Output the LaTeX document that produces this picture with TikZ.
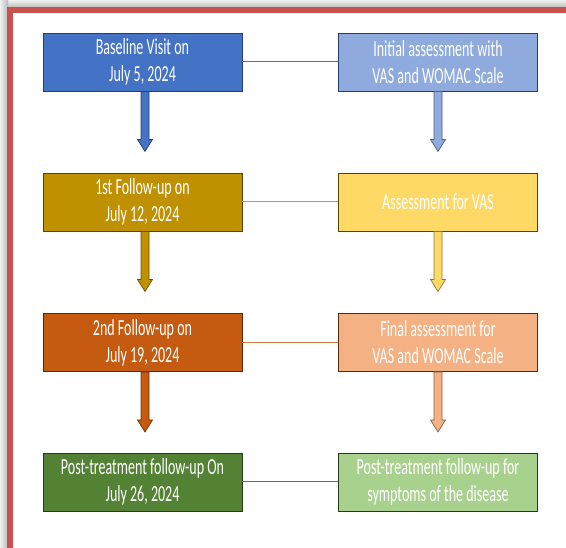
\documentclass[tikz,border=0pt]{standalone}
\usepackage{fontspec}
\setmainfont[FakeStretch=0.61]{Carlito}
\usetikzlibrary{calc}
\definecolor{blueA}{HTML}{4472C4}
\definecolor{blueB}{HTML}{8FAADC}
\definecolor{goldA}{HTML}{BF9000}
\definecolor{goldB}{HTML}{FFD966}
\definecolor{orgA}{HTML}{C55A11}
\definecolor{orgB}{HTML}{F4B183}
\definecolor{grnA}{HTML}{548235}
\definecolor{grnB}{HTML}{A9D18E}
\definecolor{frame}{HTML}{C9524F}
\tikzset{
  box/.style={minimum width=199pt, minimum height=58pt, inner sep=0pt, align=center,
    text=white, line width=0.9pt, font=\fontsize{23}{27}\selectfont},
  link/.style={line width=1pt},
}
\newcommand{\blockarr}[3]{%
  \filldraw[fill=#3, draw=#3!55!black, line width=0.7pt]
    ($(#1.south)+(#2,0)$) ++(-4,0) -- ++(0,48) -- ++(-3.5,0) -- ++(7.5,12)
    -- ++(7.5,-12) -- ++(-3.5,0) -- ++(0,-48) -- cycle;}
\begin{document}
\begin{tikzpicture}[x=1pt,y=-1pt]
\useasboundingbox (0,0) rectangle (566,548);
\fill[white] (0,0) rectangle (566,548);
\shade[top color=gray!12, bottom color=gray!55] (0,0) rectangle (566,8);
\shade[left color=gray!12, right color=gray!55] (0,0) rectangle (8,548);
\draw[frame, line width=6pt] (566,10) -- (10,10) -- (10,548);

\node[box, fill=blueA, draw=blueA!55!black] (l1) at (142.5,62) {Baseline Visit on\\July 5, 2024};
\node[box, fill=blueB, draw=blueA!55!black] (r1) at (438,62) {Initial assessment with\\VAS and WOMAC Scale};
\node[box, fill=goldA, draw=goldA!45!black] (l2) at (142.5,202) {1st Follow-up on\\July 12, 2024};
\node[box, fill=goldB, draw=goldA!45!black] (r2) at (438,202) {Assessment for VAS};
\node[box, fill=orgA, draw=orgA!45!black] (l3) at (142.5,342.5) {2nd Follow-up on\\July 19, 2024};
\node[box, fill=orgB, draw=orgA!45!black] (r3) at (438,342.5) {Final assessment for\\VAS and WOMAC Scale};
\node[box, fill=grnA, draw=grnA!45!black] (l4) at (142.5,482) {Post-treatment follow-up On\\July 26, 2024};
\node[box, fill=grnB, draw=grnA!45!black] (r4) at (438,482) {Post-treatment follow-up for\\symptoms of the disease};

\draw[link, draw=blueA] (l1.east) -- (r1.west);
\draw[link, draw=orgA!70!white] (l2.east) -- (r2.west);
\draw[link, draw=orgA!80!white] (l3.east) -- (r3.west);
\draw[link, draw=grnA] (l4.east) -- (r4.west);

\blockarr{l1}{2.5}{blueA}
\blockarr{r1}{0}{blueB}
\blockarr{l2}{2.5}{goldA}
\blockarr{r2}{0}{goldB}
\blockarr{l3}{2.5}{orgA}
\blockarr{r3}{0}{orgB}
\end{tikzpicture}
\end{document}
